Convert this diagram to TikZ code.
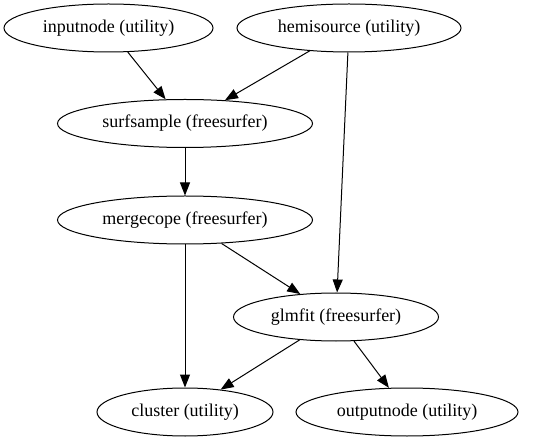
\documentclass[tikz,border=0pt]{standalone}
\usepackage{fontspec}
\setmainfont{Liberation Serif}
\usetikzlibrary{shapes.geometric,arrows.meta}
\begin{document}
\begin{tikzpicture}[x=1pt,y=-1pt,
    proc/.style={ellipse,draw,line width=1pt,inner sep=0pt,minimum height=48pt,
        font=\fontsize{18}{20}\selectfont},
    flow/.style={-{Triangle[length=13pt,width=10pt]},line width=1pt}]
\useasboundingbox (0,0) rectangle (543,443);
\node[proc,minimum width=209pt] (inputnode) at (108.5,28) {inputnode (utility)};
\node[proc,minimum width=224pt] (hemisource) at (349,28) {hemisource (utility)};
\node[proc,minimum width=255pt] (surfsample) at (185,123.5) {surfsample (freesurfer)};
\node[proc,minimum width=255pt] (mergecope) at (185,220) {mergecope (freesurfer)};
\node[proc,minimum width=205pt] (glmfit) at (336,317) {glmfit (freesurfer)};
\node[proc,minimum width=176pt] (cluster) at (185,412) {cluster (utility)};
\node[proc,minimum width=222pt] (outputnode) at (407,412) {outputnode (utility)};
\foreach \a/\b in {inputnode/surfsample,hemisource/surfsample,hemisource/glmfit,
    surfsample/mergecope,mergecope/glmfit,mergecope/cluster,glmfit/cluster,glmfit/outputnode}
    \draw[flow] (\a) -- (\b);
\end{tikzpicture}
\end{document}
